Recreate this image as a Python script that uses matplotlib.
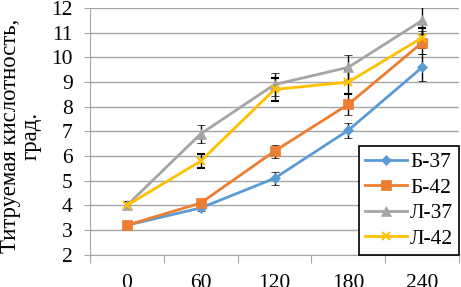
import numpy as np
import matplotlib
matplotlib.use("Agg")
import matplotlib.pyplot as plt
from matplotlib.lines import Line2D

# ---------- Data ----------
categories = ["0", "60", "120", "180", "240"]

b37 = [3.2, 3.9, 5.1, 7.05, 9.6]
b42 = [3.2, 4.1, 6.2, 8.1, 10.6]
l37 = [4.0, 6.9, 8.9, 9.6, 11.5]
l42 = [4.0, 5.8, 8.7, 9.0, 10.8]

b37_err = [0.1, 0.12, 0.25, 0.3, 0.55]
b42_err = [0.1, 0.1, 0.27, 0.45, 0.45]
l37_err = [0.15, 0.35, 0.45, 0.5, 0.55]
l42_err = [0.15, 0.28, 0.45, 0.5, 0.4]

series = [
    ("Б-37", b37, b37_err, "#5B9BD5", "D", 5.5),
    ("Б-42", b42, b42_err, "#ED7D31", "s", 7),
    ("Л-37", l37, l37_err, "#A5A5A5", "^", 7),
    ("Л-42", l42, l42_err, "#FFC000", "x", 6),
]

# ---------- Plot ----------
plt.rcParams["font.family"] = ["Liberation Serif", "DejaVu Serif"]
GRID = "#A6A6A6"

fig = plt.figure(figsize=(4.61, 2.87), dpi=100)
ax = fig.add_axes([0.195, 0.112, 0.801, 0.86])

x = np.arange(len(categories))
handles = []
for name, vals, errs, color, marker, ms in series:
    mew = 1.5 if marker == "x" else 0.5
    ax.errorbar(x, vals, yerr=errs, color=color, marker=marker, markersize=ms,
                linewidth=2, ecolor="black", elinewidth=1, capsize=3,
                capthick=1, markeredgewidth=mew)
    # legend proxy without the error bars
    handles.append(Line2D([], [], color=color, marker=marker, markersize=ms,
                          linewidth=2, markeredgewidth=mew, label=name))

ax.set_ylim(2, 12)
ax.set_yticks(range(2, 13))
ax.set_xlim(-0.5, len(categories) - 0.5)

# category boundaries get tick marks, centres get labels
ax.set_xticks(np.arange(-0.5, len(categories), 1.0))
ax.set_xticklabels([])
ax.set_xticks(x, minor=True)
ax.set_xticklabels(categories, minor=True)
ax.tick_params(axis="x", which="major", length=5.5, color=GRID)
ax.tick_params(axis="x", which="minor", length=0, pad=14, labelsize=15.5)
ax.tick_params(axis="y", length=4.3, color=GRID, pad=8, labelsize=15.5)

ax.grid(axis="y", color=GRID, linewidth=1)
ax.set_axisbelow(True)
for s in ["top", "right"]:
    ax.spines[s].set_visible(False)
ax.spines["left"].set_color(GRID)
ax.spines["bottom"].set_color(GRID)

ax.set_ylabel("Титруемая кислотность,\nград.", fontsize=16.4, linespacing=1.0)
ax.yaxis.set_label_coords(-0.13, 0.48)

leg = ax.legend(handles=handles, loc="lower right", bbox_to_anchor=(1.0, 0.0),
                fontsize=15.5, frameon=True, fancybox=False, edgecolor="black",
                framealpha=1, handlelength=1.95, borderpad=0.28,
                labelspacing=0.25, handletextpad=0.15, borderaxespad=0.0)
leg.get_frame().set_linewidth(1.2)

fig.savefig("out.png", dpi=100)
